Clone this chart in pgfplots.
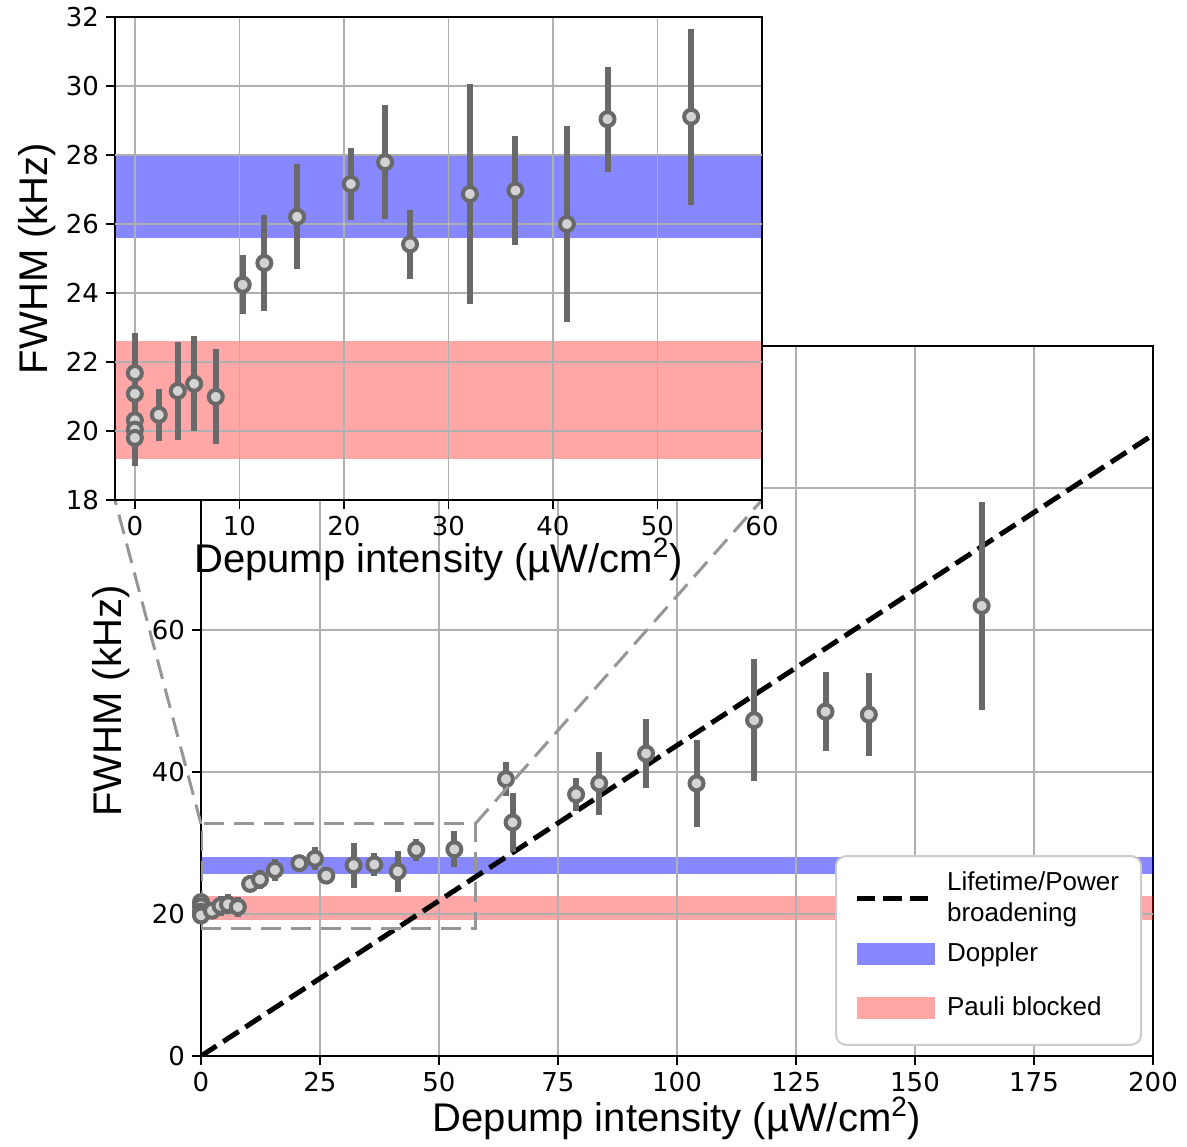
\documentclass[border=0pt]{standalone}
\usepackage{fontspec}
\setmainfont{Liberation Sans}
\newfontfamily\dejavu{DejaVu Sans}
\usepackage{pgfplots}
\usepackage{pgfplotstable}
\pgfplotsset{compat=1.18}
\definecolor{dgray}{RGB}{105,105,105}
\definecolor{mface}{RGB}{211,211,211}
\definecolor{gridc}{RGB}{176,176,176}
\definecolor{legc}{RGB}{204,204,204}
\definecolor{boxc}{RGB}{150,150,150}

\pgfplotstableread{
x y e
0 21.68 1.15
0 21.08 1.5
0 20.31 0.8
0 20.04 0.9
0 19.80 0.8
2.29 20.47 0.75
4.10 21.16 1.41
5.67 21.37 1.38
7.74 20.99 1.38
10.32 24.24 0.86
12.39 24.87 1.38
15.52 26.21 1.52
20.66 27.16 1.05
23.94 27.79 1.65
26.33 25.41 1.0
32.05 26.87 3.2
36.41 26.97 1.57
41.33 26.00 2.85
45.22 29.04 1.52
53.22 29.11 2.55
}\lowdata

\pgfplotstableread{
x y e
64.06 39.0 2.4
65.46 32.9 4.1
78.8 36.85 2.3
83.66 38.4 4.4
93.5 42.6 4.8
104.1 38.4 6.1
116.2 47.3 8.6
131.2 48.5 5.6
140.3 48.1 5.8
164.0 63.4 14.7
}\highdata

\pgfplotsset{
  mystyle/.style={
    scale only axis,
    grid=major,
    major grid style={line width=0.65pt, color=gridc},
    axis line style={line width=0.8pt, black},
    tick align=outside,
    major tick length=4.5pt,
    every tick/.style={line width=0.8pt, black},
    xtick pos=left, ytick pos=left,
    ticklabel style={font=\dejavu\fontsize{13}{15}\selectfont},
    /pgf/number format/assume math mode=true,
    label style={font=\fontsize{20}{24}\selectfont},
  },
  errs/.style={draw=none, mark=none, forget plot,
    error bars/y dir=both, error bars/y explicit,
    error bars/error bar style={line width=3pt, dgray, solid},
    error bars/error mark=none},
  pts/.style={only marks, mark=*, mark size=3.5pt, forget plot,
    mark options={fill=mface, draw=dgray, solid, line width=2pt}},
  gridseg/.style={gridc, line width=0.65pt, forget plot, unbounded coords=jump, mark=none},
}

\begin{document}
\begin{tikzpicture}
\begin{axis}[mystyle, name=main,
  at={(100.5pt,-528pt)}, anchor=south west,
  width=476pt, height=355pt,
  xmin=0, xmax=200, ymin=0, ymax=100,
  xtick={0,25,...,200}, ytick={0,20,...,100},
  xlabel={Depump intensity (µW/cm\textsuperscript{2})},
  ylabel={FWHM (kHz)},
  xlabel style={at={(axis description cs:0.5,-0.107)}, anchor=base, inner sep=0pt},
  ylabel style={at={(axis description cs:-0.084,0.5)}, anchor=base, inner sep=0pt},
  legend style={at={(0.666,0.283)}, anchor=north west,
    draw=legc, line width=1pt, rounded corners=5pt,
    font=\fontsize{13}{15.5}\selectfont,
    cells={anchor=west, align=left},
    inner xsep=9pt, inner ysep=6pt, row sep=5pt},
]
\addplot[fill=blue, fill opacity=0.47, draw=none, forget plot]
  coordinates {(0,25.6) (200,25.6) (200,28.0) (0,28.0)} -- cycle;
\addplot[fill=red, fill opacity=0.35, draw=none, forget plot]
  coordinates {(0,19.2) (200,19.2) (200,22.6) (0,22.6)} -- cycle;
\addplot[gridseg] coordinates {
  (0,20) (200,20) (nan,nan)
  (25,19.2) (25,22.6) (nan,nan) (25,25.6) (25,28) (nan,nan)
  (50,19.2) (50,22.6) (nan,nan) (50,25.6) (50,28) (nan,nan)
  (75,19.2) (75,22.6) (nan,nan) (75,25.6) (75,28) (nan,nan)
  (100,19.2) (100,22.6) (nan,nan) (100,25.6) (100,28) (nan,nan)
  (125,19.2) (125,22.6) (nan,nan) (125,25.6) (125,28) (nan,nan)
  (150,19.2) (150,22.6) (nan,nan) (150,25.6) (150,28) (nan,nan)
  (175,19.2) (175,22.6) (nan,nan) (175,25.6) (175,28)};
\addplot[black, line width=2.5pt, dash pattern=on 9.25pt off 4pt,
  legend image code/.code={\draw[black, line width=2.5pt, dash pattern=on 9.25pt off 4pt, sharp corners] (0pt,0pt) -- (39pt,0pt); \path (42pt,0pt);}]
  coordinates {(0,0) (200,87.5)};
\addlegendentry{Lifetime/Power\\broadening}
\addlegendimage{legend image code/.code={\path[fill=blue, fill opacity=0.47, draw=none, sharp corners] (0pt,-5.4pt) rectangle (39pt,5.4pt); \path (42pt,0pt);}}
\addlegendentry{Doppler}
\addlegendimage{legend image code/.code={\path[fill=red, fill opacity=0.35, draw=none, sharp corners] (0pt,-5.4pt) rectangle (39pt,5.4pt); \path (42pt,0pt) (0pt,14pt) (0pt,-12pt);}}
\addlegendentry{Pauli blocked}
\addplot[errs] table[x=x, y=y, y error=e] {\lowdata};
\addplot[errs] table[x=x, y=y, y error=e] {\highdata};
\addplot[pts] table[x=x, y=y] {\lowdata};
\addplot[pts] table[x=x, y=y] {\highdata};
\addplot[boxc, line width=1.5pt, dash pattern=on 10pt off 5pt, forget plot]
  coordinates {(0,18) (57.6,18) (57.6,32.7) (0,32.7) (0,18)};
\coordinate (bl) at (axis cs:0,32.7);
\coordinate (br) at (axis cs:57.6,32.7);
\end{axis}
\draw[boxc, line width=1.5pt, dash pattern=on 10pt off 5pt] (bl) -- (57.5pt,-250pt);
\draw[boxc, line width=1.5pt, dash pattern=on 10pt off 5pt] (br) -- (381pt,-250pt);
\begin{axis}[mystyle, name=inset,
  at={(57.5pt,-250pt)}, anchor=south west,
  width=323.5pt, height=241.5pt,
  axis background/.style={fill=white},
  xmin=-1.9, xmax=60, ymin=18, ymax=32,
  xtick={0,10,...,60}, ytick={18,20,...,32},
  xlabel={Depump intensity (µW/cm\textsuperscript{2})},
  ylabel={FWHM (kHz)},
  xlabel style={at={(axis description cs:0.5,-0.151)}, anchor=base, inner sep=0pt},
  ylabel style={at={(axis description cs:-0.105,0.5)}, anchor=base, inner sep=0pt},
]
\addplot[fill=blue, fill opacity=0.47, draw=none] coordinates {(-1.9,25.6) (60,25.6) (60,28.0) (-1.9,28.0)} -- cycle;
\addplot[fill=red, fill opacity=0.35, draw=none] coordinates {(-1.9,19.2) (60,19.2) (60,22.6) (-1.9,22.6)} -- cycle;
\addplot[gridseg] coordinates {
  (-1.9,20) (60,20) (nan,nan) (-1.9,22) (60,22) (nan,nan)
  (-1.9,26) (60,26) (nan,nan) (-1.9,28) (60,28) (nan,nan)
  (0,19.2) (0,22.6) (nan,nan) (0,25.6) (0,28) (nan,nan)
  (10,19.2) (10,22.6) (nan,nan) (10,25.6) (10,28) (nan,nan)
  (20,19.2) (20,22.6) (nan,nan) (20,25.6) (20,28) (nan,nan)
  (30,19.2) (30,22.6) (nan,nan) (30,25.6) (30,28) (nan,nan)
  (40,19.2) (40,22.6) (nan,nan) (40,25.6) (40,28) (nan,nan)
  (50,19.2) (50,22.6) (nan,nan) (50,25.6) (50,28)};
\addplot[errs] table[x=x, y=y, y error=e] {\lowdata};
\addplot[pts] table[x=x, y=y] {\lowdata};
\end{axis}
\path (0pt,0pt) rectangle (593.5pt,-573pt);
\end{tikzpicture}
\end{document}
